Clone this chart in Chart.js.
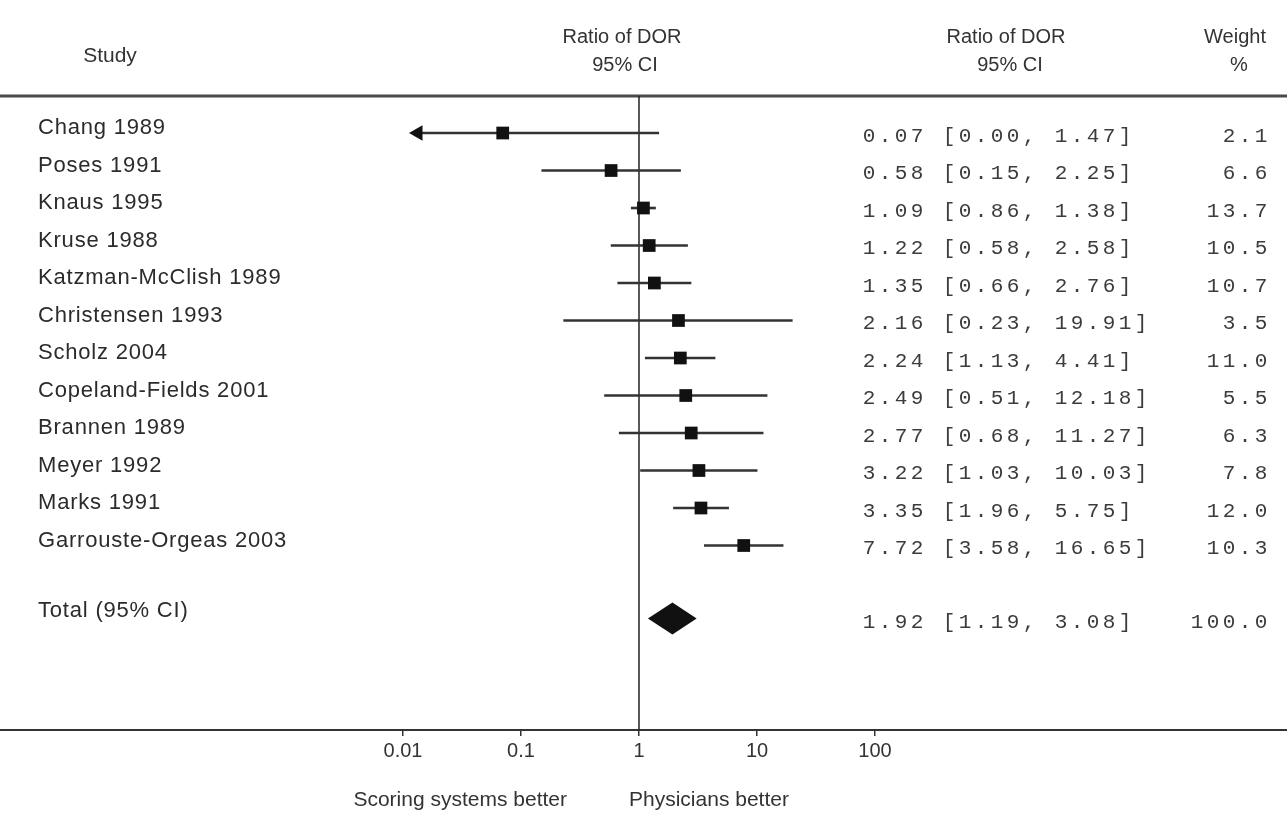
<!DOCTYPE html>
<html>
<head>
<meta charset="utf-8">
<title>Ratio of DOR forest plot</title>
<script src="https://cdn.jsdelivr.net/npm/chart.js@4/dist/chart.umd.min.js"></script>
<style>
  html, body { margin: 0; padding: 0; background: #fff; }
  #wrap { width: 1287px; height: 819px; }
</style>
</head>
<body>
<div id="wrap"><canvas id="forest" width="1287" height="819"></canvas></div>
<script>
// studies, top to bottom
const studies = [
  'Chang 1989', 'Poses 1991', 'Knaus 1995', 'Kruse 1988', 'Katzman-McClish 1989',
  'Christensen 1993', 'Scholz 2004', 'Copeland-Fields 2001', 'Brannen 1989',
  'Meyer 1992', 'Marks 1991', 'Garrouste-Orgeas 2003'
];
const dor     = [0.07, 0.58, 1.09, 1.22, 1.35, 2.16, 2.24, 2.49, 2.77, 3.22, 3.35, 7.72];
const ciLow   = [0.00, 0.15, 0.86, 0.58, 0.66, 0.23, 1.13, 0.51, 0.68, 1.03, 1.96, 3.58];
const ciHigh  = [1.47, 2.25, 1.38, 2.58, 2.76, 19.91, 4.41, 12.18, 11.27, 10.03, 5.75, 16.65];
const weights = [2.1, 6.6, 13.7, 10.5, 10.7, 3.5, 11.0, 5.5, 6.3, 7.8, 12.0, 10.3];

const totalLabel = 'Total (95% CI)';
const totalDor = 1.92;
const totalLow = 1.19;
const totalHigh = 3.08;
const totalWeight = 100.0;
const totalRow = 13;

const tickValues = [0.01, 0.1, 1, 10, 100];
const sideLabels = ['Scoring systems better', 'Physicians better'];

// lower limits below this are cut off and shown as an arrow
const truncLimit = 0.0134;

const rows = studies.map((s, i) => i);
const shownLow = ciLow.map(v => Math.max(v, truncLimit));
const arrowRows = rows.filter(i => ciLow[i] < truncLimit);

const INK = '#2b2b2b';
const SANS = '"Liberation Sans", Arial, sans-serif';
const MONO = '"Liberation Mono", "Courier New", monospace';

function drawMono(ctx, str, left, y, pitch) {
  ctx.textAlign = 'center';
  for (let i = 0; i < str.length; i++) {
    ctx.fillText(str[i], left + i * pitch + pitch / 2, y);
  }
}

const forestDecor = {
  id: 'forestDecor',
  beforeDatasetsDraw(chart) {
    const { ctx, chartArea, scales: { x } } = chart;
    const W = chart.width;
    ctx.save();
    // full-width rules
    ctx.strokeStyle = '#4a4a4a';
    ctx.lineWidth = 3;
    ctx.beginPath();
    ctx.moveTo(0, chartArea.top);
    ctx.lineTo(W, chartArea.top);
    ctx.stroke();
    ctx.lineWidth = 2;
    ctx.strokeStyle = '#333';
    ctx.beginPath();
    ctx.moveTo(0, chartArea.bottom);
    ctx.lineTo(W, chartArea.bottom);
    ctx.stroke();
    // line of no effect
    const x1 = x.getPixelForValue(1);
    ctx.lineWidth = 1.5;
    ctx.strokeStyle = '#222';
    ctx.beginPath();
    ctx.moveTo(x1, chartArea.top);
    ctx.lineTo(x1, chartArea.bottom);
    ctx.stroke();
    ctx.restore();
  },
  afterDatasetsDraw(chart) {
    const { ctx, scales: { x, y } } = chart;
    ctx.save();
    // pooled diamond
    const yc = y.getPixelForValue(totalRow) - 2;
    ctx.fillStyle = '#111';
    ctx.beginPath();
    ctx.moveTo(x.getPixelForValue(totalLow), yc);
    ctx.lineTo(x.getPixelForValue(totalDor), yc - 16);
    ctx.lineTo(x.getPixelForValue(totalHigh), yc);
    ctx.lineTo(x.getPixelForValue(totalDor), yc + 16);
    ctx.closePath();
    ctx.fill();

    // headers
    ctx.fillStyle = '#333';
    ctx.textBaseline = 'middle';
    ctx.textAlign = 'center';
    ctx.font = '21px ' + SANS;
    ctx.fillText('Study', 110, 56);
    ctx.font = '20px ' + SANS;
    ctx.fillText('Ratio of DOR', 622, 37);
    ctx.fillText('95% CI', 625, 65);
    ctx.fillText('Ratio of DOR', 1006, 37);
    ctx.fillText('95% CI', 1010, 65);
    ctx.fillText('Weight', 1235, 37);
    ctx.fillText('%', 1239, 65);

    // study labels
    ctx.fillStyle = INK;
    ctx.textAlign = 'left';
    ctx.font = '22px ' + SANS;
    if ('letterSpacing' in ctx) ctx.letterSpacing = '0.8px';
    rows.forEach(i => ctx.fillText(studies[i], 38, y.getPixelForValue(i) - 5));
    ctx.fillText(totalLabel, 38, y.getPixelForValue(totalRow) - 10);
    if ('letterSpacing' in ctx) ctx.letterSpacing = '0px';

    // numeric columns
    ctx.fillStyle = '#3c3c3c';
    ctx.font = '21px ' + MONO;
    const pitch = 16;
    const ciText = (e, l, h) => e.toFixed(2) + ' [' + l.toFixed(2) + ', ' + h.toFixed(2) + ']';
    rows.forEach(i => {
      const yy = y.getPixelForValue(i) + 3;
      drawMono(ctx, ciText(dor[i], ciLow[i], ciHigh[i]), 861, yy, pitch);
      const w = weights[i].toFixed(1);
      drawMono(ctx, w, 1269 - w.length * pitch, yy, pitch);
    });
    const yt = y.getPixelForValue(totalRow) + 2;
    drawMono(ctx, ciText(totalDor, totalLow, totalHigh), 861, yt, pitch);
    const tw = totalWeight.toFixed(1);
    drawMono(ctx, tw, 1269 - tw.length * pitch, yt, pitch);

    // favours labels
    const x1 = x.getPixelForValue(1);
    ctx.fillStyle = '#333';
    ctx.font = '21px ' + SANS;
    ctx.textAlign = 'right';
    ctx.fillText(sideLabels[0], x1 - 72, 800);
    ctx.textAlign = 'left';
    ctx.fillText(sideLabels[1], x1 - 10, 800);
    ctx.restore();
  }
};

new Chart(document.getElementById('forest'), {
  data: {
    datasets: [
      {
        type: 'bar',
        indexAxis: 'y',
        data: rows.map(i => ({ y: i, x: [shownLow[i], ciHigh[i]] })),
        backgroundColor: '#333',
        borderWidth: 0,
        barThickness: 2,
        order: 3
      },
      {
        type: 'scatter',
        data: rows.map(i => ({ x: dor[i], y: i })),
        pointStyle: 'rect',
        pointRadius: 9,
        pointBackgroundColor: '#111',
        pointBorderWidth: 0,
        order: 1
      },
      {
        type: 'scatter',
        data: arrowRows.map(i => ({ x: truncLimit, y: i })),
        pointStyle: 'triangle',
        rotation: -90,
        pointRadius: 9,
        pointBackgroundColor: '#111',
        pointBorderWidth: 0,
        order: 2
      }
    ]
  },
  options: {
    responsive: false,
    animation: false,
    layout: { padding: { left: 403, right: 412, top: 96, bottom: 49 } },
    plugins: { legend: { display: false }, tooltip: { enabled: false } },
    scales: {
      x: {
        type: 'logarithmic',
        min: 0.01,
        max: 100,
        position: 'bottom',
        offset: false,
        afterBuildTicks(scale) { scale.ticks = tickValues.map(v => ({ value: v })); },
        afterFit(scale) { scale.height = 40; },
        border: { display: false },
        grid: { offset: false, drawOnChartArea: false, drawTicks: true, tickLength: 6, color: '#333', lineWidth: 1.5 },
        ticks: {
          autoSkip: false,
          maxRotation: 0,
          padding: 3,
          color: '#333',
          font: { family: SANS, size: 20 },
          callback: v => String(v)
        }
      },
      y: {
        type: 'linear',
        display: false,
        reverse: true,
        offset: false,
        min: -0.987,
        max: 15.92
      }
    }
  },
  plugins: [forestDecor]
});
</script>
</body>
</html>
